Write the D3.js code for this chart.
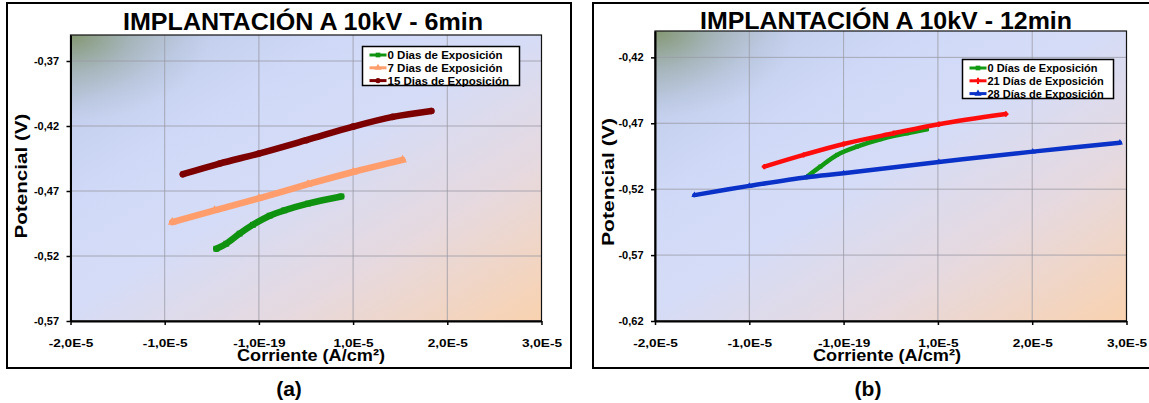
<!DOCTYPE html>
<html>
<head>
<meta charset="utf-8">
<script src="https://cdn.jsdelivr.net/npm/d3@7"></script>
<style>
  body { margin: 0; background: #fff; }
  svg { display: block; font-family: Arial, "Liberation Sans", sans-serif; }
</style>
</head>
<body>
<svg id="chart" width="1149" height="403"></svg>
<script>
// ejes comunes
var corrienteTicks = [-2e-5, -1e-5, 0, 1e-5, 2e-5, 3e-5];
var corrienteLabels = ['-2,0E-5', '-1,0E-5', '-1,0E-19', '1,0E-5', '2,0E-5', '3,0E-5'];

var potencialTicks6 = [-0.57, -0.52, -0.47, -0.42, -0.37];
var potencialLabels6 = ['-0,57', '-0,52', '-0,47', '-0,42', '-0,37'];
var potencialTicks12 = [-0.62, -0.57, -0.52, -0.47, -0.42];
var potencialLabels12 = ['-0,62', '-0,57', '-0,52', '-0,47', '-0,42'];

// series 6 min  [corriente (A/cm2), potencial (V)]
var dias0_6min = [[-0.452e-5, -0.5144], [-0.346e-5, -0.5105], [-0.205e-5, -0.5028], [-0.064e-5, -0.4960],
  [0.114e-5, -0.4890], [0.27e-5, -0.4849], [0.52e-5, -0.4797], [0.875e-5, -0.4742]];
var dias7_6min = [[-0.92e-5, -0.4940], [-0.47e-5, -0.4849], [0, -0.4756], [0.52e-5, -0.4648],
  [1.0e-5, -0.4554], [1.525e-5, -0.4461]];
var dias15_6min = [[-0.807e-5, -0.4571], [-0.417e-5, -0.4489], [0, -0.4412], [0.503e-5, -0.4309],
  [1.0e-5, -0.4205], [1.42e-5, -0.4130], [1.83e-5, -0.4084]];

// series 12 min
var dias0_12min = [[-0.395e-5, -0.5109], [-0.247e-5, -0.5029], [-0.07e-5, -0.4940], [0.142e-5, -0.4877],
  [0.389e-5, -0.4821], [0.672e-5, -0.4776], [0.883e-5, -0.4745]];
var dias21_12min = [[-0.84e-5, -0.5029], [-0.424e-5, -0.4940], [0, -0.4857], [0.53e-5, -0.4776],
  [1.01e-5, -0.4707], [1.72e-5, -0.4630]];
var dias28_12min = [[-1.582e-5, -0.5245], [-1.0e-5, -0.5175], [-0.388e-5, -0.5109], [0, -0.5079],
  [1.01e-5, -0.4993], [2.006e-5, -0.4915], [2.93e-5, -0.4847]];

var svg = d3.select('#chart');

var defs = svg.append('defs');
var grad = defs.append('linearGradient').attr('id', 'fondo')
  .attr('x1', 0).attr('y1', 0).attr('x2', 1).attr('y2', 1);
[[0, '#a9b8c4'], [0.14, '#c3cfec'], [0.28, '#cfd9f7'], [0.48, '#d5dcf7'], [0.72, '#e6d9df'], [1, '#f9d2af']]
  .forEach(function(s){ grad.append('stop').attr('offset', s[0]).attr('stop-color', s[1]); });
var verde = defs.append('radialGradient').attr('id', 'esquina')
  .attr('cx', 0).attr('cy', 0).attr('r', 0.3);
verde.append('stop').attr('offset', 0).attr('stop-color', '#83976f').attr('stop-opacity', 1);
verde.append('stop').attr('offset', 0.45).attr('stop-color', '#97a8a0').attr('stop-opacity', 0.5);
verde.append('stop').attr('offset', 1).attr('stop-color', '#a8b6c8').attr('stop-opacity', 0);

function dibujarPanel(p){

  var g = svg.append('g');

  g.append('rect')
    .attr('x', p.box[0]).attr('y', p.box[1]).attr('width', p.box[2]).attr('height', p.box[3])
    .attr('fill', '#fff').attr('stroke', '#000').attr('stroke-width', 2);

  var x = d3.scaleLinear().domain([-2e-5, 3e-5]).range([p.left, p.right]);
  var y = d3.scaleLinear().domain(p.yDomain).range([p.bottom, p.top]);

  g.append('rect').attr('x', p.left).attr('y', p.top)
    .attr('width', p.right - p.left).attr('height', p.bottom - p.top)
    .attr('fill', 'url(#fondo)');
  g.append('rect').attr('x', p.left).attr('y', p.top)
    .attr('width', p.right - p.left).attr('height', p.bottom - p.top)
    .attr('fill', 'url(#esquina)');

  // rejilla
  g.selectAll('line.gx').data(corrienteTicks).enter().append('line')
    .attr('x1', function(d){ return x(d); }).attr('x2', function(d){ return x(d); })
    .attr('y1', p.top).attr('y2', p.bottom)
    .attr('stroke', '#9a9aa4').attr('stroke-width', 0.8);
  g.selectAll('line.gy').data(p.yTicks).enter().append('line')
    .attr('x1', p.left).attr('x2', p.right)
    .attr('y1', function(d){ return y(d); }).attr('y2', function(d){ return y(d); })
    .attr('stroke', '#9a9aa4').attr('stroke-width', 0.8);

  g.append('rect').attr('x', p.left).attr('y', p.top)
    .attr('width', p.right - p.left).attr('height', p.bottom - p.top)
    .attr('fill', 'none').attr('stroke', '#111').attr('stroke-width', 1.2);

  var ejeX = g.append('g').attr('transform', 'translate(0,' + p.bottom + ')')
    .call(d3.axisBottom(x).tickValues(corrienteTicks).tickSizeInner(4).tickSizeOuter(0).tickPadding(14)
      .tickFormat(function(d, i){ return corrienteLabels[i]; }));
  var ejeY = g.append('g').attr('transform', 'translate(' + p.left + ',0)')
    .call(d3.axisLeft(y).tickValues(p.yTicks).tickSizeInner(4).tickSizeOuter(0).tickPadding(7.5)
      .tickFormat(function(d, i){ return p.yLabels[i]; }));
  [ejeX, ejeY].forEach(function(e){
    e.attr('font-family', 'Arial, "Liberation Sans", sans-serif');
    e.select('.domain').attr('stroke', '#000').attr('stroke-width', 2);
    e.selectAll('.tick line').attr('stroke', '#000').attr('stroke-width', 1.5);
    e.selectAll('text').attr('font-size', 11).attr('font-weight', 'bold').attr('fill', '#000');
  });
  // las etiquetas de corriente son mas anchas en el original
  ejeX.selectAll('.tick text').attr('transform', 'scale(1.24,1)');

  // series
  var linea = d3.line().x(function(d){ return x(d[0]); }).y(function(d){ return y(d[1]); })
    .curve(d3.curveCatmullRom.alpha(0.5));

  p.series.forEach(function(s){
    g.append('path').datum(s.data)
      .attr('d', linea)
      .attr('fill', 'none').attr('stroke', s.color)
      .attr('stroke-width', p.grosor).attr('stroke-linecap', 'round').attr('stroke-linejoin', 'round');
    g.selectAll(null).data(s.data).enter().append('path')
      .attr('d', d3.symbol().type(s.simbolo).size(p.grosor * p.grosor * 0.8))
      .attr('transform', function(d){ return 'translate(' + x(d[0]) + ',' + y(d[1]) + ')'; })
      .attr('fill', s.color);
  });

  // titulo y etiquetas
  g.append('text').attr('x', p.titulo[1]).attr('y', p.titulo[2])
    .attr('text-anchor', 'middle').attr('font-size', 24.5).attr('font-weight', 'bold')
    .attr('textLength', p.titulo[3]).attr('lengthAdjust', 'spacingAndGlyphs')
    .text(p.titulo[0]);

  g.append('text').attr('x', p.xLabel[0]).attr('y', p.xLabel[1])
    .attr('text-anchor', 'middle').attr('font-size', 17).attr('font-weight', 'bold')
    .attr('textLength', 148).attr('lengthAdjust', 'spacingAndGlyphs')
    .text('Corriente (A/cm²)');

  g.append('text')
    .attr('transform', 'translate(' + p.yLabel[0] + ',' + p.yLabel[1] + ') rotate(-90)')
    .attr('text-anchor', 'middle').attr('font-size', 17).attr('font-weight', 'bold')
    .attr('textLength', p.yLabel[2]).attr('lengthAdjust', 'spacingAndGlyphs')
    .text('Potencial (V)');

  g.append('text').attr('x', p.letra[1]).attr('y', 396)
    .attr('text-anchor', 'middle').attr('font-size', 21).attr('font-weight', 'bold')
    .text(p.letra[0]);

  // leyenda
  var ley = g.append('g').attr('transform', 'translate(' + p.leyenda[0] + ',' + p.leyenda[1] + ')');
  ley.append('rect').attr('width', p.leyenda[2]).attr('height', p.leyenda[3])
    .attr('fill', '#fff').attr('stroke', '#000').attr('stroke-width', 1.5);
  p.series.forEach(function(s, i){
    var yy = 8.5 + i * 12.8;
    ley.append('line').attr('x1', 7).attr('x2', 24).attr('y1', yy).attr('y2', yy)
      .attr('stroke', s.color).attr('stroke-width', 3);
    ley.append('path').attr('d', d3.symbol().type(s.simbolo).size(22)())
      .attr('transform', 'translate(15.5,' + yy + ')').attr('fill', s.color);
    ley.append('text').attr('x', 25).attr('y', yy + 4.2)
      .attr('font-size', p.leyenda[4]).attr('font-weight', 'bold')
      .text(s.nombre);
  });
}

dibujarPanel({
  box: [7, 3, 564, 365],
  left: 70.5, right: 541.5, top: 35, bottom: 321,
  yDomain: [-0.57, -0.35], yTicks: potencialTicks6, yLabels: potencialLabels6,
  grosor: 6.5,
  titulo: ['IMPLANTACIÓN  A 10kV - 6min', 303, 30, 360],
  xLabel: [311, 361], yLabel: [27, 176, 125], letra: ['(a)', 289],
  leyenda: [362.5, 46.5, 157, 39, 11.5],
  series: [
    { nombre: '0 Dias de Exposición', data: dias0_6min, color: '#0f920f', simbolo: d3.symbolSquare },
    { nombre: '7 Dias de Exposición', data: dias7_6min, color: '#ff9d6c', simbolo: d3.symbolTriangle },
    { nombre: '15 Dias de Exposición', data: dias15_6min, color: '#7d0000', simbolo: d3.symbolCircle }
  ]
});

dibujarPanel({
  box: [593, 3, 562, 365],
  left: 655, right: 1126.5, top: 31, bottom: 321,
  yDomain: [-0.62, -0.40], yTicks: potencialTicks12, yLabels: potencialLabels12,
  grosor: 4.5,
  titulo: ['IMPLANTACIÓN  A 10kV - 12min', 886, 29, 372],
  xLabel: [887, 361], yLabel: [614, 182, 128], letra: ['(b)', 868],
  leyenda: [962.5, 59.5, 151, 39, 11],
  series: [
    { nombre: '0 Días de Exposición', data: dias0_12min, color: '#139a13', simbolo: d3.symbolSquare },
    { nombre: '21 Días de Exposición', data: dias21_12min, color: '#ff0c0c', simbolo: d3.symbolCross },
    { nombre: '28 Días de Exposición', data: dias28_12min, color: '#0a32c8', simbolo: d3.symbolTriangle }
  ]
});
</script>
</body>
</html>
